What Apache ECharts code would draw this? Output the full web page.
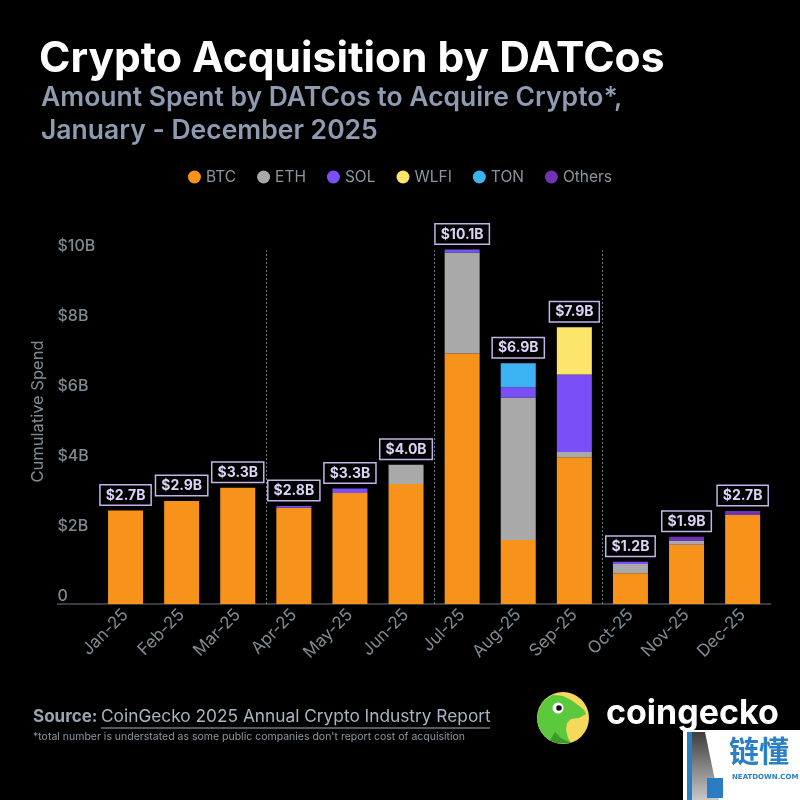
<!DOCTYPE html>
<html>
<head>
<meta charset="utf-8">
<script src="https://cdn.jsdelivr.net/npm/echarts@6/dist/echarts.min.js"></script>
<style>
  html, body { margin: 0; padding: 0; background: #000; }
  #chart { width: 800px; height: 800px; }
</style>
</head>
<body>
<div id="chart"></div>
<script>
// values in $B
const months = ['Jan-25', 'Feb-25', 'Mar-25', 'Apr-25', 'May-25', 'Jun-25', 'Jul-25', 'Aug-25', 'Sep-25', 'Oct-25', 'Nov-25', 'Dec-25'];
const btc    = [2.67, 2.94, 3.32, 2.75, 3.17, 3.43, 7.16, 1.83, 4.19, 0.88, 1.69, 2.54];
const eth    = [0, 0, 0, 0, 0, 0.55, 2.88, 4.07, 0.15, 0.26, 0.11, 0];
const sol    = [0, 0, 0, 0.05, 0.13, 0, 0.09, 0.29, 2.22, 0.07, 0, 0];
const wlfi   = [0, 0, 0, 0, 0, 0, 0, 0, 1.35, 0, 0, 0];
const ton    = [0, 0, 0, 0, 0, 0, 0, 0.69, 0, 0, 0, 0];
const others = [0, 0, 0, 0, 0, 0, 0, 0, 0, 0, 0.12, 0.12];
const yTicks = [0, 2, 4, 6, 8, 10];
const quarterBreaks = [3, 6, 9];

const totals = months.map((m, i) => btc[i] + eth[i] + sol[i] + wlfi[i] + ton[i] + others[i]);

const axisGray = '#7f8a92';
const font = 'Inter';

let myChart = echarts.init(document.getElementById('chart'));

function seg(name, data, color) {
  return {
    name: name,
    type: 'bar',
    stack: 'spend',
    barWidth: 35,
    data: data,
    itemStyle: { color: color }
  };
}

let option = {
  backgroundColor: '#000',
  textStyle: { fontFamily: font },
  title: [
    {
      text: 'Crypto Acquisition by DATCos',
      left: 34, top: 33,
      textStyle: { color: '#fff', fontSize: 42.5, fontWeight: 'bold', fontFamily: font }
    },
    {
      text: 'Amount Spent by DATCos to Acquire Crypto*,\nJanuary - December 2025',
      left: 36, top: 77,
      textStyle: { color: '#8e9bb0', fontSize: 26.5, fontWeight: 600, lineHeight: 33, fontFamily: font }
    }
  ],
  legend: {
    data: ['BTC', 'ETH', 'SOL', 'WLFI', 'TON', 'Others'],
    top: 164,
    left: 'center',
    icon: 'circle',
    itemWidth: 13,
    itemHeight: 13,
    itemGap: 21,
    textStyle: { color: '#8b959e', fontSize: 15.5, fontFamily: font }
  },
  grid: { left: 97.5, right: 29.3, top: 219, bottom: 196 },
  xAxis: [
    {
      type: 'category',
      data: months,
      axisLine: { lineStyle: { color: '#4c5258', width: 1.5 } },
      axisTick: { show: false },
      axisLabel: { color: axisGray, fontSize: 17, rotate: 45, margin: 8, fontFamily: font, interval: 0 }
    },
    { type: 'value', min: 0, max: 12, show: false }
  ],
  yAxis: {
    type: 'value',
    min: 0,
    max: 11,
    interval: 2,
    name: 'Cumulative Spend',
    nameLocation: 'middle',
    nameGap: 46,
    nameTextStyle: { color: axisGray, fontSize: 16.5, fontFamily: font },
    splitLine: { show: false },
    axisLine: { show: false },
    axisTick: { show: false },
    axisLabel: {
      color: axisGray, fontSize: 16, fontWeight: 500, fontFamily: font,
      align: 'left', verticalAlign: 'bottom', margin: 40,
      showMaxLabel: false,
      formatter: v => yTicks.indexOf(v) < 0 ? '' : (v === 0 ? '0' : '$' + v + 'B')
    }
  },
  series: [
    seg('BTC', btc, '#f7931a'),
    seg('ETH', eth, '#a9a9a9'),
    seg('SOL', sol, '#7b4ff7'),
    seg('WLFI', wlfi, '#fde46a'),
    seg('TON', ton, '#3db2f2'),
    seg('Others', others, '#7232b4'),
    {
      name: 'Total',
      type: 'bar',
      stack: 'spend',
      barWidth: 35,
      data: months.map(() => 0),
      label: {
        show: true,
        position: 'top',
        distance: 6,
        formatter: p => '$' + totals[p.dataIndex].toFixed(1) + 'B',
        color: '#ddd3f7',
        fontSize: 14,
        fontWeight: 'bold',
        fontFamily: font,
        backgroundColor: '#000',
        borderColor: '#c3b4e8',
        borderWidth: 1.5,
        padding: [3, 5, 2, 5]
      }
    },
    {
      name: 'quarters',
      type: 'line',
      xAxisIndex: 1,
      data: [],
      silent: true,
      markLine: {
        silent: true,
        symbol: 'none',
        label: { show: false },
        lineStyle: { color: '#6f7d84', type: [2, 2], width: 1 },
        data: quarterBreaks.map(q => [{ coord: [q, 0] }, { coord: [q, 10.1] }])
      }
    }
  ],
  graphic: [
    // baseline continues under the y labels
    { type: 'line', shape: { x1: 57, y1: 604, x2: 98, y2: 604 }, style: { stroke: '#4c5258', lineWidth: 1.5 } },
    // source block
    { type: 'text', x: 33, y: 708, style: { text: 'Source:', fill: '#98a4b4', font: 'bold 17px Inter' } },
    { type: 'text', x: 101, y: 708, style: { text: 'CoinGecko 2025 Annual Crypto Industry Report', fill: '#a9b4c4', font: '17.3px Inter' } },
    { type: 'line', shape: { x1: 101, y1: 728, x2: 490, y2: 728 }, style: { stroke: '#a9b4c4', lineWidth: 1 } },
    { type: 'text', x: 33, y: 731, style: { text: "*total number is understated as some public companies don't report cost of acquisition", fill: '#8d98a4', font: '10.5px Inter' } },
    // coingecko logo
    {
      type: 'group', x: 563, y: 718,
      children: [
        { type: 'circle', shape: { cx: 0, cy: 0, r: 26 }, style: { fill: '#f6d85a' } },
        {
          type: 'polygon',
          shape: { points: [[-25, -6], [-20, -17], [-10, -23], [0, -22], [8, -18], [15, -13], [21, -8], [23, -4], [16, 0], [8, 1], [4, 5], [3, 12], [5, 20], [8, 25], [-4.5, 25.6], [-13, 22.5], [-19.9, 16.7], [-24.4, 8.9], [-26, 0]] },
          style: { fill: '#5cc83b' }
        },
        { type: 'polygon', shape: { points: [[-8, 14], [-2, 20], [8, 25], [-4.5, 25.6], [-13, 22.5]] }, style: { fill: '#3c9a2a' } },
        { type: 'circle', shape: { cx: -5, cy: -10, r: 5.5 }, style: { fill: '#fff' } },
        { type: 'circle', shape: { cx: -4, cy: -10, r: 2.8 }, style: { fill: '#111' } }
      ]
    },
    { type: 'text', x: 606, y: 697, style: { text: 'coingecko', fill: '#fff', font: 'bold 34px Inter' } },
    // watermark
    {
      type: 'group', x: 683, y: 730,
      children: [
        { type: 'rect', shape: { x: 0, y: 0, width: 117, height: 70 }, style: { fill: '#fff' } },
        {
          type: 'polygon', shape: { points: [[4, 2], [22, 2], [36, 70], [4, 70]] },
          style: { fill: new echarts.graphic.LinearGradient(0, 0, 0, 1, [{ offset: 0, color: '#3d3d3d' }, { offset: 1, color: '#c8c8c8' }]) }
        },
        { type: 'rect', shape: { x: 4, y: 2, width: 5, height: 68 }, style: { fill: '#2a7cc4' } },
        { type: 'rect', shape: { x: 24, y: 48, width: 16, height: 20 }, style: { fill: '#2a7cc4' } },
        { type: 'text', x: 46, y: 6, style: { text: '链懂', fill: '#2a7fc6', font: 'bold 30px "Noto Sans CJK SC"' } },
        { type: 'text', x: 49, y: 44, style: { text: 'NEATDOWN.COM', fill: '#2a7fc6', font: 'bold 7px "DejaVu Sans"' } }
      ]
    }
  ]
};

myChart.setOption(option);
</script>
</body>
</html>
